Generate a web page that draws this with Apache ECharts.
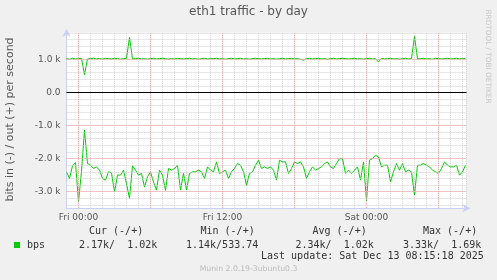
<!DOCTYPE html>
<html><head><meta charset="utf-8">
<script src="https://cdn.jsdelivr.net/npm/echarts@6/dist/echarts.min.js"></script>
<style>html,body{margin:0;padding:0;background:#f0f0f0}#c{width:497px;height:280px}</style>
</head><body><div id="c"></div>
<script>
// time axis: hours relative to Fri 00:00, one sample per 15 minutes
const startHour = -1;
const stepHour = 0.25;
const xTickLabels = {0: 'Fri 00:00', 12: 'Fri 12:00', 24: 'Sat 00:00'};
const majorHours = [0, 6, 12, 18, 24, 30];
const yTickLabels = {'-3': '-3.0 k', '-2': '-2.0 k', '-1': '-1.0 k', '0': '0.0', '1': '1.0 k'};
const yMajor = [-3, -2, -1, 1];

// bits per second in thousands
const inK = [2.40,2.60,2.22,2.12,3.30,2.38,1.14,2.15,2.20,2.30,
2.25,2.35,2.60,2.65,2.40,2.43,3.01,2.50,2.50,2.35,
2.76,3.20,2.22,2.35,2.50,2.45,2.86,2.55,2.40,2.71,
2.95,2.35,2.50,2.96,2.30,2.35,2.30,2.20,2.95,2.45,
2.95,2.45,2.40,2.40,2.35,2.40,2.60,2.25,2.35,2.40,
2.10,2.45,2.40,2.35,2.60,2.40,2.30,2.15,2.20,2.40,
2.81,2.45,2.40,2.20,2.05,2.30,2.25,2.30,2.25,2.35,
2.65,2.05,2.10,2.10,2.45,2.30,2.10,2.15,2.10,2.25,
2.60,2.40,2.25,2.35,2.30,2.25,2.15,2.10,2.25,2.30,
2.15,2.00,2.00,2.45,2.35,2.45,2.35,2.25,2.65,2.10,
3.28,2.05,2.00,1.90,1.95,2.25,2.20,2.20,2.70,2.40,
2.15,2.35,2.15,2.40,2.35,2.40,3.10,2.20,2.20,2.15,
2.20,2.25,2.35,2.40,2.45,2.30,2.10,2.20,2.25,2.25,
2.20,2.50,2.40,2.20];
const outK = [1.02,1.00,1.03,1.01,1.02,1.03,0.53,1.01,1.02,1.03,
1.01,1.02,1.00,1.03,1.02,1.01,1.03,1.02,1.00,1.02,
1.03,1.66,1.01,1.02,1.03,1.01,1.02,1.00,1.02,1.03,
1.01,1.02,1.03,1.02,1.00,1.02,1.01,1.03,1.02,1.01,
1.02,1.03,1.01,1.02,1.00,1.02,1.03,1.01,1.02,1.02,
1.03,1.01,1.02,1.00,1.02,1.03,1.01,1.02,1.03,1.01,
1.02,1.00,1.02,1.03,1.02,1.01,1.02,1.03,1.01,1.02,
1.00,1.02,1.03,1.01,1.02,1.03,1.01,1.02,1.00,0.97,
1.02,1.03,1.01,1.02,1.03,1.01,1.02,1.00,1.02,1.03,
1.01,1.02,1.03,1.02,1.01,1.02,1.03,1.01,1.02,1.00,
1.02,1.03,1.01,1.02,0.92,1.03,1.01,1.02,1.03,1.01,
1.02,1.00,1.02,1.03,1.01,1.02,1.69,1.01,1.02,1.03,
1.01,1.02,1.00,1.03,1.02,1.01,1.02,1.03,1.01,1.02,
1.03,1.01,1.02,1.02];

const legendHeaders = ['Cur (-/+)', 'Min (-/+)', 'Avg (-/+)', 'Max (-/+)'];
const legendValues = ['2.17k/  1.02k', '1.14k/533.74', '2.34k/  1.02k', '3.33k/  1.69k'];
const lastUpdate = 'Last update: Sat Dec 13 08:15:18 2025';

const inData = inK.map((v, i) => [startHour + i * stepHour, -v]);
const outData = outK.map((v, i) => [startHour + i * stepHour, v]);

const gray = '#cfcfcf', red = '#f2a0a0';
const minorY = [];
for (let k = -17; k <= 9; k++) minorY.push(k * 0.2);
const gridLines = [];
minorY.forEach(v => gridLines.push({yAxis: v, lineStyle: {color: gray, type: [1, 1], width: 1}}));
yMajor.forEach(v => gridLines.push({yAxis: v, lineStyle: {color: red, type: [1, 1], width: 1}}));
majorHours.forEach(h => gridLines.push({xAxis: h, lineStyle: {color: red, type: [1, 1], width: 1}}));
gridLines.push({yAxis: 0, lineStyle: {color: '#000', type: 'solid', width: 1}});

const mono = 'DejaVu Sans Mono';
const headerX = [89, 200.5, 312.5, 423];
const valueX = [79, 186, 295.5, 403];
const graphics = [
  {type: 'text', left: 'center', top: 6, style: {text: 'eth1 traffic - by day', font: '12px "DejaVu Sans"', fill: '#555'}},
  {type: 'text', x: 10, y: 119.5, rotation: Math.PI / 2, style: {text: 'bits in (-) / out (+) per second', font: '11px "DejaVu Sans"', fill: '#555', align: 'center', verticalAlign: 'middle'}},
  {type: 'text', x: 488, y: 56.5, rotation: -Math.PI / 2, style: {text: 'RRDTOOL / TOBI OETIKER', font: '7.3px "DejaVu Sans"', fill: '#c8c8c8', align: 'center', verticalAlign: 'middle'}},
  {type: 'rect', shape: {x: 14, y: 242, width: 6, height: 6}, style: {fill: '#00cc00'}},
  {type: 'text', x: 27, y: 245, style: {text: 'bps', font: '10px "' + mono + '"', fill: '#333', verticalAlign: 'middle'}},
  {type: 'text', x: 261, y: 256.7, style: {text: lastUpdate, font: '10px "' + mono + '"', fill: '#333', verticalAlign: 'middle'}},
  {type: 'text', x: 248.5, y: 268.7, style: {text: 'Munin 2.0.19-3ubuntu0.3', font: '7.7px "DejaVu Sans"', fill: '#bbb', align: 'center', verticalAlign: 'middle'}}
];
legendHeaders.forEach((t, i) => graphics.push({type: 'text', x: headerX[i], y: 231.7, style: {text: t, font: '10px "' + mono + '"', fill: '#333', verticalAlign: 'middle'}}));
legendValues.forEach((t, i) => graphics.push({type: 'text', x: valueX[i], y: 245, style: {text: t, font: '10px "' + mono + '"', fill: '#333', verticalAlign: 'middle'}}));

const axisColor = '#c9d0f4';
const chart = echarts.init(document.getElementById('c'), null, {renderer: 'canvas'});
chart.setOption({
  animation: false,
  backgroundColor: '#f0f0f0',
  grid: {left: 66.5, right: 30.5, top: 32.8, bottom: 71.75, show: true, backgroundColor: '#fff', borderWidth: 0},
  xAxis: {
    type: 'value', min: -1, max: 32.333, interval: 1,
    axisLine: {show: true, onZero: false, lineStyle: {color: axisColor, width: 1}, symbol: ['none', 'arrow'], symbolSize: [6, 8], symbolOffset: [0, 4]},
    axisTick: {show: false},
    splitLine: {show: true, lineStyle: {color: gray, type: [1, 1], width: 1}},
    axisLabel: {color: '#555', fontSize: 9, fontFamily: 'DejaVu Sans', margin: 5,
      formatter: v => xTickLabels[Math.round(v * 1000) / 1000] || ''}
  },
  yAxis: {
    type: 'value', min: -3.5, max: 1.8, interval: 0.1,
    axisLine: {show: true, onZero: false, lineStyle: {color: axisColor, width: 1}, symbol: ['none', 'arrow'], symbolSize: [6, 8], symbolOffset: [0, 4]},
    axisTick: {show: false},
    splitLine: {show: false},
    axisLabel: {color: '#555', fontSize: 9, fontFamily: 'DejaVu Sans', margin: 6,
      formatter: v => { const r = Math.round(v); return Math.abs(v - r) < 1e-6 ? (yTickLabels[String(r)] || '') : ''; }}
  },
  graphic: graphics,
  series: [
    {type: 'line', data: [], z: 1, silent: true,
      markLine: {silent: true, symbol: 'none', label: {show: false}, animation: false, data: gridLines}},
    {type: 'line', name: 'in', data: inData, z: 3, showSymbol: false, symbol: 'none', lineStyle: {color: '#00cc00', width: 1}, itemStyle: {color: '#00cc00'}},
    {type: 'line', name: 'out', data: outData, z: 3, showSymbol: false, symbol: 'none', lineStyle: {color: '#00cc00', width: 1}, itemStyle: {color: '#00cc00'}}
  ]
});
</script></body></html>
